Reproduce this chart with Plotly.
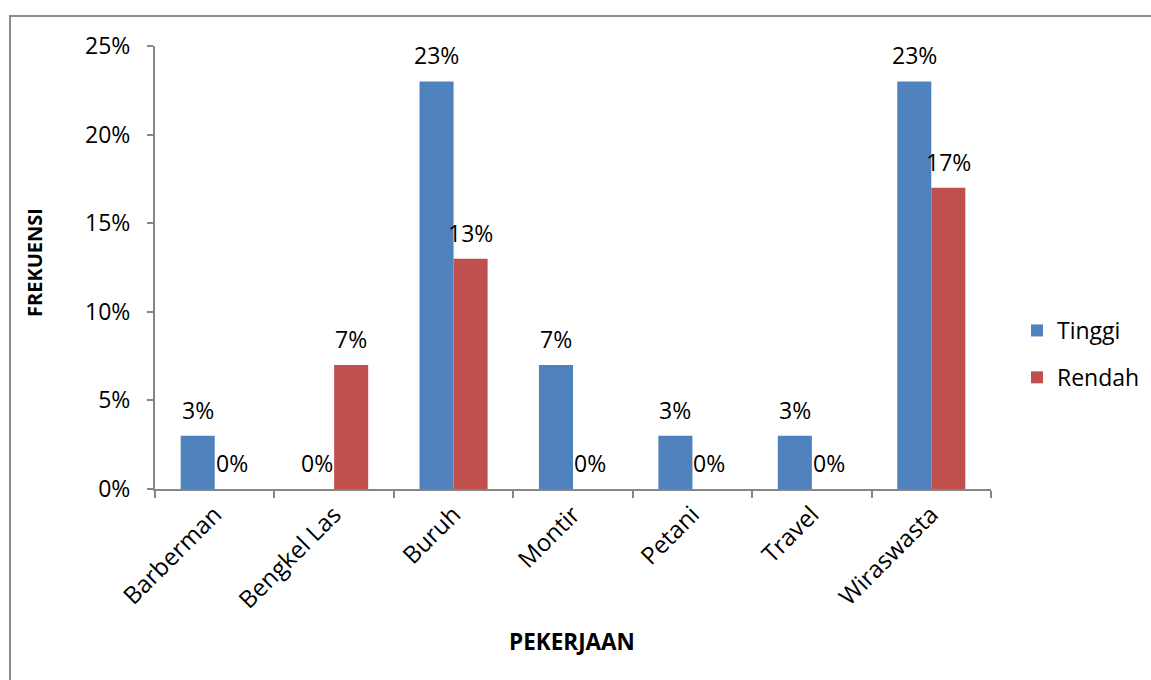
import plotly.graph_objects as go

# Occupation categories and the share of each group (percent)
categories = ["Barberman", "Bengkel Las", "Buruh", "Montir", "Petani", "Travel", "Wiraswasta"]
tinggi = [3, 0, 23, 7, 3, 3, 23]
rendah = [0, 7, 13, 0, 0, 0, 17]
y_ticks = [0, 5, 10, 15, 20, 25]

FONT = "Open Sans, sans-serif"
BLUE = "#4F81BD"
RED = "#C0504D"
GRID = "#868686"
FS = 23

W, H = 1151, 680
L, R, T, B = 155, 160, 46, 191
plot_w = W - L - R
plot_h = H - T - B
bargap = 0.43
cat_px = plot_w / len(categories)
bar_px = cat_px * (1 - bargap) / 2

fig = go.Figure()
fig.add_trace(go.Bar(name="Tinggi", x=categories, y=[v / 100 for v in tinggi],
                     marker=dict(color=BLUE, line=dict(width=0)), legendgroup="a"))
fig.add_trace(go.Bar(name="Rendah", x=categories, y=[v / 100 for v in rendah],
                     marker=dict(color=RED, line=dict(width=0)), legendgroup="b"))

annotations = []
for series, shift in ((tinggi, -bar_px / 2), (rendah, bar_px / 2)):
    for cat, v in zip(categories, series):
        annotations.append(dict(x=cat, y=v / 100, xref="x", yref="y", text=f"{v}%",
                                showarrow=False, xshift=shift, yshift=26,
                                yanchor="middle", xanchor="center",
                                font=dict(family=FONT, size=FS, color="#000")))

annotations.append(dict(x=(34 - L) / plot_w, y=(H - B - 263) / plot_h, xref="paper", yref="paper",
                        text="<b>FREKUENSI</b>", showarrow=False, textangle=-90,
                        xanchor="center", yanchor="middle",
                        font=dict(family=FONT, size=20, color="#000")))
annotations.append(dict(x=(572 - L) / plot_w, y=-(641 - (H - B)) / plot_h, xref="paper", yref="paper",
                        text="<b>PEKERJAAN</b>", showarrow=False,
                        xanchor="center", yanchor="middle",
                        font=dict(family=FONT, size=22.5, color="#000")))

fig.update_layout(
    width=W, height=H,
    margin=dict(l=L, r=R, t=T, b=B, autoexpand=False),
    paper_bgcolor="white", plot_bgcolor="white",
    barmode="group", bargap=bargap, bargroupgap=0,
    font=dict(family=FONT, size=FS, color="#000"),
    showlegend=True,
    legend=dict(x=(1017 - L) / plot_w, y=(H - B - 354) / plot_h, xanchor="left", yanchor="middle",
                traceorder="grouped", tracegroupgap=14,
                font=dict(family=FONT, size=FS, color="#000"),
                bgcolor="rgba(0,0,0,0)", itemwidth=30),
    xaxis=dict(showline=True, linecolor=GRID, linewidth=2, ticks="outside", tickson="boundaries",
               ticklen=7, tickcolor=GRID, tickwidth=2, tickangle=-45, showgrid=False,
               tickfont=dict(family=FONT, size=24, color="#000")),
    yaxis=dict(range=[0, 0.25], tickvals=[v / 100 for v in y_ticks],
               ticktext=[f"{v}%" for v in y_ticks],
               showline=True, linecolor=GRID, linewidth=2, ticks="outside", ticklen=6,
               tickcolor=GRID, tickwidth=2, showgrid=False, zeroline=False,
               ticklabelstandoff=12,
               tickfont=dict(family=FONT, size=FS, color="#000")),
    annotations=annotations,
    shapes=[dict(type="rect", xref="paper", yref="paper",
                 x0=(10 - L) / plot_w, x1=(W + 20 - L) / plot_w,
                 y0=-(H + 20 - (H - B)) / plot_h, y1=1 + (T - 16) / plot_h,
                 line=dict(color="#8C8C8C", width=2), fillcolor="rgba(0,0,0,0)", layer="below")],
)

fig.write_html("out.html")
